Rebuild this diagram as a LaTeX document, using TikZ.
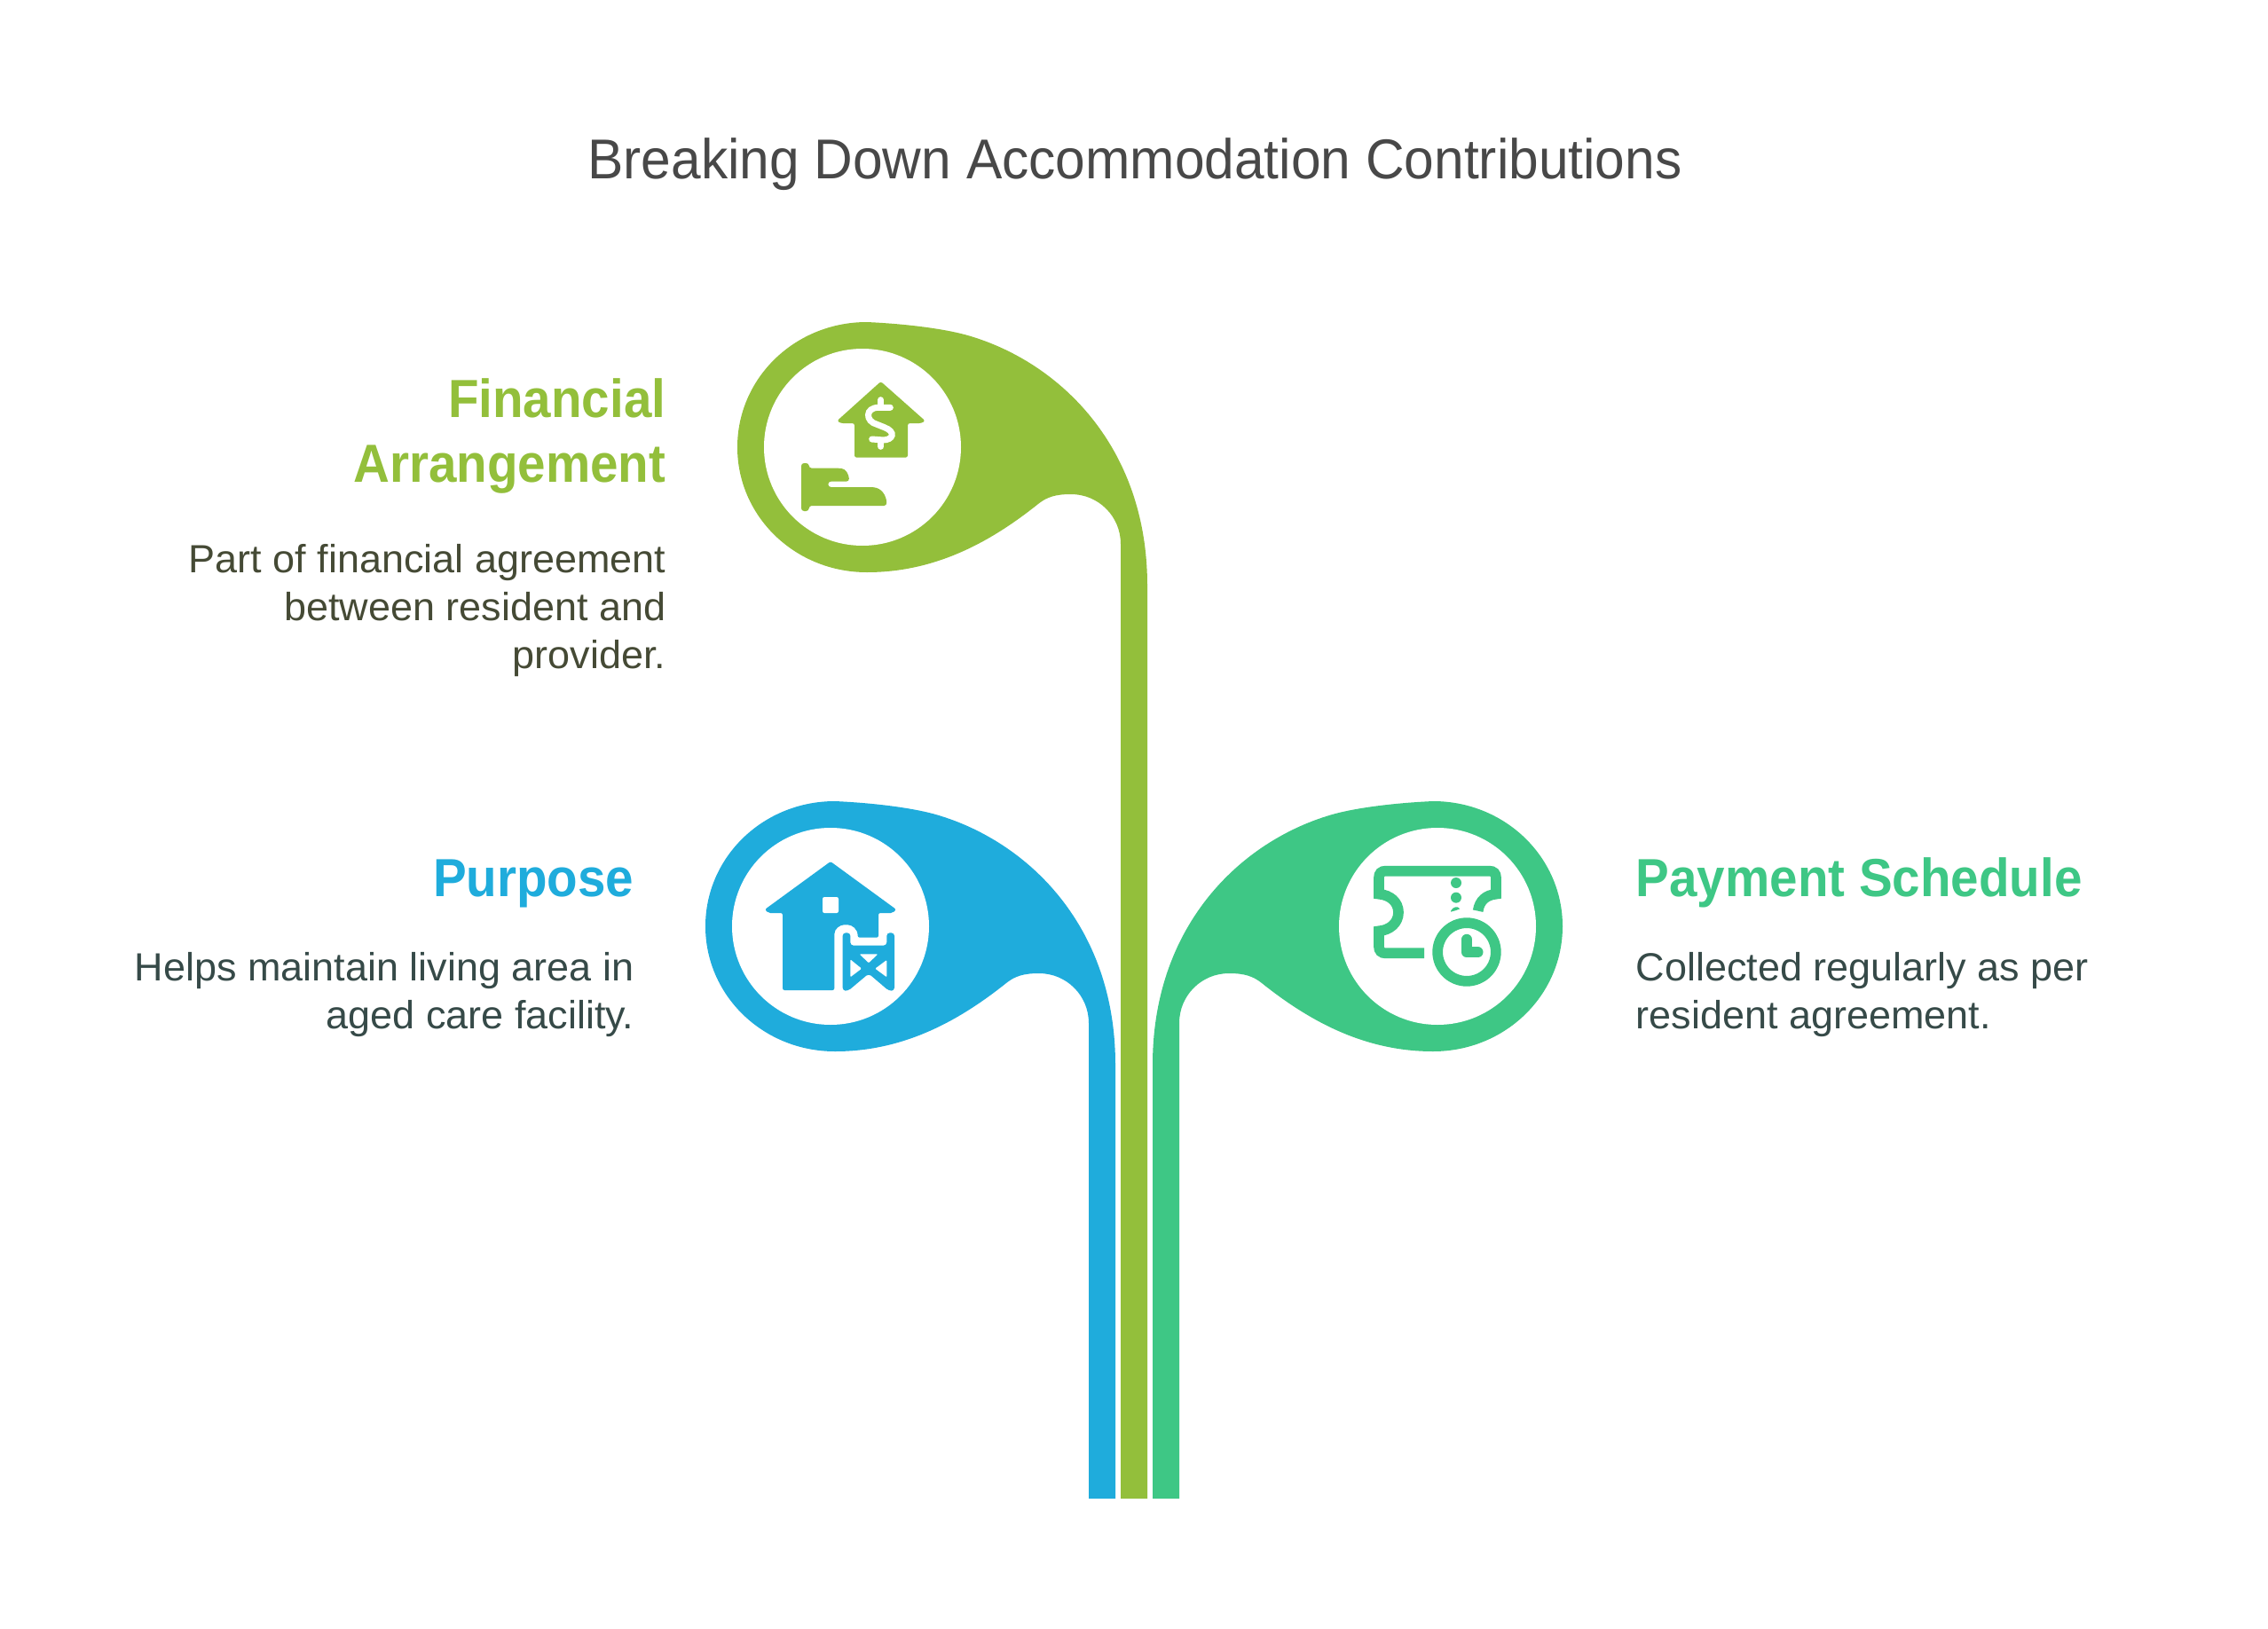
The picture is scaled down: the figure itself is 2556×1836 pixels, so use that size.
\documentclass[tikz,border=0pt]{standalone}
\usepackage{fontspec}
\setmainfont{Liberation Sans}
\newfontfamily\titlefont[FakeStretch=0.955]{Liberation Sans}
\newfontfamily\headfont[FakeStretch=0.935]{Liberation Sans}
\newfontfamily\copyfont[FakeStretch=1.015]{Liberation Sans}
\definecolor{leafgreen}{HTML}{93BF3B}
\definecolor{leafblue}{HTML}{1FACDC}
\definecolor{leafmint}{HTML}{3EC785}
\definecolor{titlegray}{HTML}{484848}
\definecolor{bodyolive}{HTML}{454A35}
\definecolor{bodyslate}{HTML}{364A48}
\tikzset{
  headtext/.style={font=\fontsize{17.2}{20.7}\headfont\bfseries,inner sep=0pt},
  bodytext/.style={font=\fontsize{12.6}{15.36}\copyfont,inner sep=0pt},
  titletext/.style={font=\fontsize{18}{22}\titlefont,text=titlegray,inner sep=0pt},
  zoomgrid/.style={scale=1/3}
}
\newcommand{\leafshape}[1]{%
  \fill (977,363) .. controls (896,363) and (831,426) .. (831,504)
    .. controls (831,582) and (896,645) .. (977,645)
    .. controls (1053,645) and (1115,612) .. (1170,568)
    .. controls (1180,560) and (1190,557) .. (1207,557)
    .. controls (1238,557) and (1263,582) .. (1263,613)
    -- (1263,#1) -- (1293,#1) -- (1293,660)
    .. controls (1293,500) and (1190,405) .. (1087,377)
    .. controls (1060,370) and (1020,365) .. (977,363) -- cycle;
  \fill[white] (972,504) circle[radius=111];
}
\begin{document}
\begin{tikzpicture}[x=0.01cm,y=-0.01cm]
\useasboundingbox (0,0) rectangle (2556,1836);
\fill[white] (0,0) rectangle (2556,1836);

% leaves
\begin{scope}[leafgreen]\leafshape{1689}\end{scope}
\begin{scope}[leafblue,shift={(-36,540)}]\leafshape{1149}\end{scope}
\begin{scope}[leafmint,shift={(2592,540)},xscale=-1]\leafshape{1149}\end{scope}

% house and hand icon
\begin{scope}[shift={(820,340)},zoomgrid]
\fill[leafgreen,rounded corners=0.7pt] (518,270) -- (668,403) -- (655,411) -- (609,411) -- (609,527) -- (429,527) -- (429,411) -- (383,411) -- (370,403) -- cycle;
\draw[white,line width=0.07cm,line cap=round] (518,332) -- (518,352) (518,468) -- (518,490);
\draw[white,line width=0.07cm,line cap=round] (550,358) -- (510,358) .. controls (465,358) and (465,405) .. (505,415) -- (530,425) .. controls (570,440) and (560,468) .. (525,468) -- (488,465);
\fill[leafgreen,rounded corners=0.9pt] (249,546) -- (275,546) -- (275,563) -- (375,563) .. controls (400,565) and (410,585) .. (411,608) -- (340,608) -- (340,627) -- (485,627) .. controls (520,630) and (537,655) .. (538,690) -- (275,690) -- (275,708) -- (249,708) -- cycle;
\end{scope}

% barn and gate icon
\begin{scope}[shift={(780,890)},zoomgrid]
\fill[leafblue,rounded corners=0.6pt] (468,243) -- (690,405) -- (678,417) -- (630,417) -- (630,500) -- (560,500)
  .. controls (560,470) and (540,457) .. (520,457) .. controls (500,457) and (481,470) .. (481,495)
  -- (481,678) -- (306,678) -- (306,417) -- (258,417) -- (246,405) -- cycle;
\fill[white,rounded corners=0.6pt] (441,363) rectangle (495,417);
\fill[leafblue,rounded corners=1pt] (509,484) -- (535,484) -- (535,527) -- (658,527) -- (658,484) -- (684,484) -- (684,680) -- (665,680) -- (597,622) -- (528,680) -- (509,680) -- cycle;
\fill[white,rounded corners=0.3pt] (566,556) -- (628,556) -- (597,586) -- cycle;
\fill[white,rounded corners=0.3pt] (535,574) -- (573,605) -- (535,634) -- cycle;
\fill[white,rounded corners=0.3pt] (658,576) -- (619,605) -- (658,634) -- cycle;
\end{scope}

% ticket and clock icon
\begin{scope}[shift={(1300,890)},zoomgrid]
\draw[leafmint,line width=0.117cm] (915,553) -- (785,553) .. controls (770,553) and (762,545) .. (762,530) -- (762,478)
  .. controls (800,475) and (828,450) .. (828,415) .. controls (828,380) and (800,356) .. (762,353)
  -- (762,298) .. controls (762,283) and (770,275) .. (785,275) -- (1135,275)
  .. controls (1150,275) and (1158,283) .. (1158,298) -- (1158,353) .. controls (1125,356) and (1102,375) .. (1097,410);
\fill[leafmint] (1023,315) circle[radius=18] (1023,365) circle[radius=18];
\fill[leafmint] (1005,410) .. controls (1012,396) and (1028,392) .. (1036,403) .. controls (1026,408) and (1015,410) .. (1005,413) -- cycle;
\draw[leafmint,line width=0.117cm] (1059,549) circle[radius=98.5];
\draw[leafmint,line width=0.117cm,line cap=round,line join=round] (1059,506) -- (1059,550) -- (1097,550);
\end{scope}

% texts
\node[titletext,anchor=base] (title) at (1279,201) {Breaking Down Accommodation Contributions};
\node[headtext,text=leafgreen,align=right,anchor=north east] (finhead) at (751,426) {Financial\\Arrangement};
\node[bodytext,text=bodyolive,align=right,anchor=north east] (finbody) at (751,613) {Part of financial agreement\\between resident and\\provider.};
\node[headtext,text=leafblue,anchor=north east] (purhead) at (715,968) {Purpose};
\node[bodytext,text=bodyslate,align=right,anchor=north east] (purbody) at (715,1073) {Helps maintain living area in\\aged care facility.};
\node[headtext,text=leafmint,anchor=north west] (payhead) at (1843,966) {Payment Schedule};
\node[bodytext,text=bodyslate,align=left,anchor=north west] (paybody) at (1843,1073) {Collected regularly as per\\resident agreement.};
\end{tikzpicture}
\end{document}
